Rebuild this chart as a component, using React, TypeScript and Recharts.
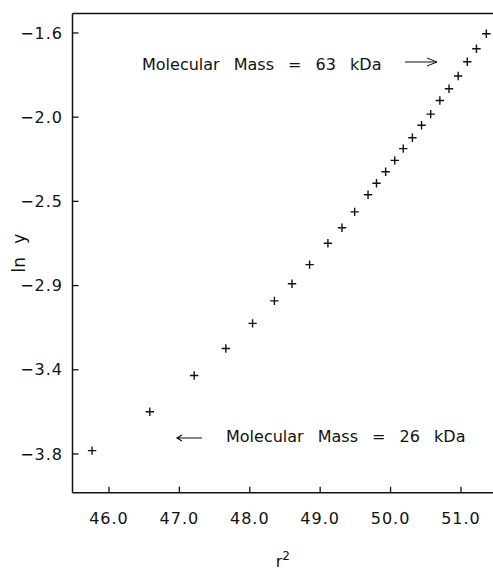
import React from "react";
import { ScatterChart, Scatter, XAxis, YAxis, ReferenceLine } from "recharts";

// r^2 vs ln y
const r2 = [
  45.76, 46.58, 47.21, 47.66, 48.04, 48.35, 48.6, 48.85, 49.11, 49.31, 49.49, 49.68, 49.8,
  49.93, 50.06, 50.18, 50.31, 50.44, 50.57, 50.7, 50.83, 50.96, 51.09, 51.22, 51.36,
];
const lnY = [
  -3.832, -3.624, -3.431, -3.286, -3.152, -3.032, -2.94, -2.838, -2.724, -2.641, -2.556,
  -2.465, -2.403, -2.342, -2.281, -2.218, -2.16, -2.093, -2.034, -1.961, -1.898, -1.83,
  -1.754, -1.684, -1.604,
];

const xTicks = [46, 47, 48, 49, 50, 51];
const xTickLabels = ["46.0", "47.0", "48.0", "49.0", "50.0", "51.0"];
const yTicks = [-1.6, -2.05, -2.5, -2.95, -3.4, -3.85];
const yTickLabels = ["\u22121.6", "\u22122.0", "\u22122.5", "\u22122.9", "\u22123.4", "\u22123.8"];

const xDomain = [45.482, 51.455];
const yDomain = [-4.057, -1.496];

const data = r2.map((x, i) => ({ x, y: lnY[i] }));

const FONT = "'DejaVu Sans', sans-serif";
const INK = "#111";

function Plus(props: any) {
  const { cx, cy } = props;
  const s = 4.2;
  return (
    <path
      d={`M${cx - s},${cy}H${cx + s}M${cx},${cy - s}V${cy + s}`}
      stroke={INK}
      strokeWidth={1.4}
      fill="none"
    />
  );
}

// ticks point into the plot
function XTick(props: any) {
  const { x, y, payload } = props;
  const label = xTickLabels[xTicks.indexOf(payload.value)] ?? String(payload.value);
  return (
    <g>
      <line x1={x} x2={x} y1={y} y2={y - 6} stroke={INK} strokeWidth={1.3} />
      <text x={x} y={y + 20} dy="0.71em" textAnchor="middle" fontFamily={FONT} fontSize={16} fill={INK} letterSpacing={1}>
        {label}
      </text>
    </g>
  );
}

function YTick(props: any) {
  const { x, y, payload } = props;
  const label = yTickLabels[yTicks.indexOf(payload.value)] ?? String(payload.value);
  return (
    <g>
      <line x1={x} x2={x + 6} y1={y} y2={y} stroke={INK} strokeWidth={1.3} />
      <text x={x - 9.5} y={y} dy="0.355em" textAnchor="end" fontFamily={FONT} fontSize={16} fill={INK} letterSpacing={1}>
        {label}
      </text>
    </g>
  );
}

export default function App() {
  return (
    <div style={{ position: "absolute", left: 0, top: 0, width: 493, height: 570, background: "#fff" }}>
      <ScatterChart width={493} height={570} margin={{ top: 13.5, right: 0, bottom: 0, left: 0 }}>
        <XAxis
          type="number"
          dataKey="x"
          domain={xDomain}
          ticks={xTicks}
          allowDataOverflow
          height={77.3}
          stroke={INK}
          strokeWidth={1.5}
          tickLine={false}
          tickSize={0}
          tickMargin={0}
          tick={<XTick />}
          label={(p: any) => {
            const vb = p.viewBox;
            return (
              <text x={vb.x + vb.width / 2} y={567} textAnchor="middle" fontFamily={FONT} fontSize={16} fill={INK}>
                r<tspan fontSize={12} dy={-7}>2</tspan>
              </text>
            );
          }}
        />
        <YAxis
          type="number"
          dataKey="y"
          domain={yDomain}
          ticks={yTicks}
          allowDataOverflow
          width={72.5}
          stroke={INK}
          strokeWidth={1.5}
          tickLine={false}
          tickSize={0}
          tickMargin={0}
          tick={<YTick />}
          label={(p: any) => {
            const vb = p.viewBox;
            const cx = 19;
            const cy = vb.y + vb.height / 2;
            return (
              <text
                x={cx}
                y={cy}
                textAnchor="middle"
                dominantBaseline="central"
                transform={`rotate(-90 ${cx} ${cy})`}
                fontFamily={FONT}
                fontSize={17}
                fill={INK}
                wordSpacing={8}
              >
                ln y
              </text>
            );
          }}
        />
        <ReferenceLine y={yDomain[1]} stroke={INK} strokeWidth={1.5} />
        <Scatter data={data} shape={<Plus />} isAnimationActive={false} />
      </ScatterChart>
      <svg
        width={493}
        height={570}
        style={{ position: "absolute", left: 0, top: 0, pointerEvents: "none" }}
      >
        <text x={142} y={70} fontFamily={FONT} fontSize={16} fill={INK} wordSpacing={9}>
          Molecular Mass = 63 kDa
        </text>
        <path d="M405,62H437M427,58L437,62L427,66" stroke={INK} strokeWidth={1} fill="none" />
        <text x={226} y={442} fontFamily={FONT} fontSize={16} fill={INK} wordSpacing={9}>
          Molecular Mass = 26 kDa
        </text>
        <path d="M202,438H177M182,435L177,438L182,441" stroke={INK} strokeWidth={1.2} fill="none" />
      </svg>
    </div>
  );
}
